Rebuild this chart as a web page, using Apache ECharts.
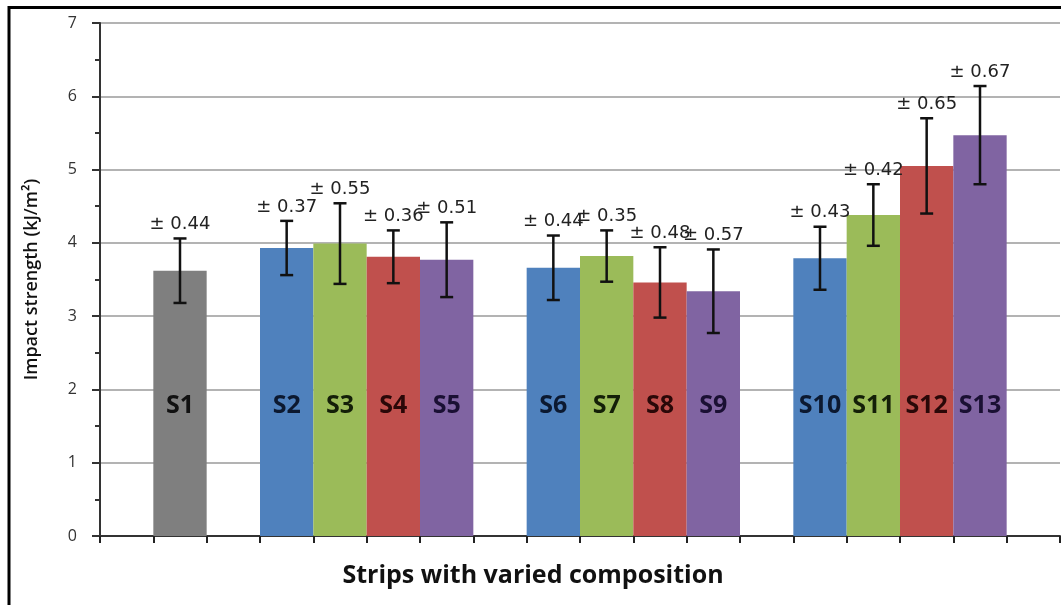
<!DOCTYPE html>
<html>
<head>
<meta charset="utf-8">
<script src="https://cdn.jsdelivr.net/npm/echarts@6/dist/echarts.min.js"></script>
<style>
  html, body { margin: 0; padding: 0; background: #fff; }
  #chart { width: 1061px; height: 605px; }
</style>
</head>
<body>
<div id="chart"></div>
<script>
// slots along the x axis, empty strings are the gaps between groups
const categories = ["", "S1", "", "S2", "S3", "S4", "S5", "", "S6", "S7", "S8", "S9", "", "S10", "S11", "S12", "S13", ""];
// impact strength (kJ/m2) per slot
const strength = [null, 3.62, null, 3.93, 3.99, 3.81, 3.77, null, 3.66, 3.82, 3.46, 3.34, null, 3.79, 4.38, 5.05, 5.47, null];
// standard deviation per slot
const deviation = [null, 0.44, null, 0.37, 0.55, 0.36, 0.51, null, 0.44, 0.35, 0.48, 0.57, null, 0.43, 0.42, 0.65, 0.67, null];
const yTicks = [0, 1, 2, 3, 4, 5, 6, 7];

const gray = "#7f7f7f";
const palette = ["#4f81bd", "#9bbb59", "#c0504d", "#8064a2"];
const darkPalette = ["#0c1930", "#141f08", "#2a0808", "#1a1033"];

let chart = echarts.init(document.getElementById("chart"));

function styleOf(name) {
  let n = parseInt(name.substring(1), 10);
  if (n === 1) return { bar: gray, text: "#111" };
  let k = (n - 2) % 4;
  return { bar: palette[k], text: darkPalette[k] };
}

let barData = categories.map((c, i) => {
  if (strength[i] == null) return { value: null };
  let s = styleOf(c);
  return {
    value: strength[i],
    itemStyle: { color: s.bar },
    label: { color: s.text },
  };
});

let errData = [];
categories.forEach((c, i) => {
  if (strength[i] != null) errData.push([i, strength[i], deviation[i]]);
});

let option = {
  backgroundColor: "#fff",
  animation: false,
  grid: {
    left: 100,
    right: 1,
    top: 23,
    bottom: 69,
  },
  xAxis: {
    type: "category",
    data: categories,
    axisLine: { lineStyle: { color: "#333", width: 2 } },
    axisTick: { show: true, length: 7, lineStyle: { color: "#222", width: 2 } },
    axisLabel: { show: false },
    splitLine: { show: false },
  },
  yAxis: {
    type: "value",
    min: yTicks[0],
    max: yTicks[yTicks.length - 1],
    interval: 1,
    name: "Impact strength (kJ/m²)",
    nameLocation: "middle",
    nameGap: 59,
    nameTextStyle: {
      fontFamily: "Open Sans",
      fontWeight: 600,
      fontSize: 18,
      color: "#111",
    },
    axisLine: { show: true, lineStyle: { color: "#333", width: 2 } },
    axisTick: { show: true, length: 8, lineStyle: { color: "#333", width: 2 } },
    minorTick: { show: true, splitNumber: 2, length: 5, lineStyle: { color: "#333", width: 2 } },
    axisLabel: {
      fontFamily: "Open Sans",
      fontSize: 16,
      color: "#333",
      margin: 23,
    },
    splitLine: { lineStyle: { color: "#9a9a9a", width: 1.5 } },
  },
  graphic: [
    {
      type: "polyline",
      shape: { points: [[9, 605], [9, 7.5], [1061, 7.5]] },
      style: { stroke: "#000", lineWidth: 3, fill: null },
    },
    {
      type: "text",
      x: 533,
      y: 576,
      style: {
        text: "Strips with varied composition",
        fontFamily: "Open Sans",
        fontWeight: "bold",
        fontSize: 25,
        fill: "#111",
        align: "center",
        verticalAlign: "middle",
      },
    },
  ],
  series: [
    {
      type: "bar",
      data: barData,
      barCategoryGap: "0%",
      label: {
        show: true,
        position: "insideBottom",
        distance: 118,
        formatter: "{b}",
        fontFamily: "Open Sans",
        fontWeight: "bold",
        fontSize: 25,
      },
    },
    {
      type: "custom",
      data: errData,
      z: 5,
      renderItem: (params, api) => {
        let x = api.coord([api.value(0), 0])[0];
        let m = api.value(1);
        let e = api.value(2);
        let top = api.coord([api.value(0), m + e])[1];
        let bot = api.coord([api.value(0), m - e])[1];
        let cap = 6.5;
        let line = { stroke: "#111", lineWidth: 2.5 };
        return {
          type: "group",
          children: [
            { type: "line", shape: { x1: x, y1: top, x2: x, y2: bot }, style: line },
            { type: "line", shape: { x1: x - cap, y1: top, x2: x + cap, y2: top }, style: line },
            { type: "line", shape: { x1: x - cap, y1: bot, x2: x + cap, y2: bot }, style: line },
            {
              type: "text",
              x: x,
              y: top - 14,
              style: {
                text: "± " + e.toFixed(2),
                fontFamily: "DejaVu Sans",
                fontSize: 18,
                fill: "#222",
                align: "center",
                verticalAlign: "middle",
              },
            },
          ],
        };
      },
    },
  ],
};

chart.setOption(option);
window.addEventListener("resize", () => {
  chart.resize();
});
</script>
</body>
</html>
